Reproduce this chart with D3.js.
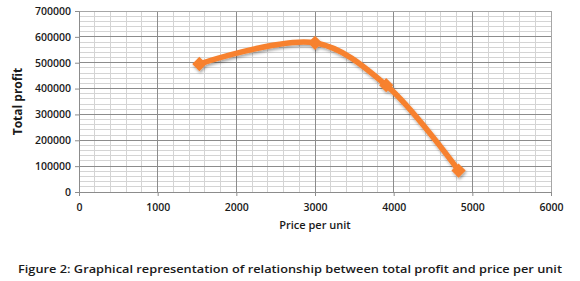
<!DOCTYPE html>
<html>
<head>
<meta charset="utf-8">
<script src="https://cdn.jsdelivr.net/npm/d3@7"></script>
<style>
  body { margin: 0; background: #fff; }
  svg text { fill: #1a1a1a; }
</style>
</head>
<body>
<div id="chart"></div>
<script>
// values
const prices = [1530, 3000, 3905, 4825];
const profits = [495000, 577000, 413000, 83000];
const xTicks = [0, 1000, 2000, 3000, 4000, 5000, 6000];
const yTicks = [0, 100000, 200000, 300000, 400000, 500000, 600000, 700000];

const width = 580, height = 281;
const margin = {top: 11, right: 29, bottom: 89, left: 79};

const svg = d3.select("#chart").append("svg")
    .attr("width", width)
    .attr("height", height);

const x = d3.scaleLinear().domain([0, 6000]).range([margin.left, width - margin.right]);
const y = d3.scaleLinear().domain([0, 700000]).range([height - margin.bottom, margin.top]);

// shadow for the line
const defs = svg.append("defs");
const f = defs.append("filter").attr("id", "shadow")
    .attr("x", "-10%").attr("y", "-10%").attr("width", "130%").attr("height", "130%");
f.append("feDropShadow")
    .attr("dx", 1).attr("dy", 2).attr("stdDeviation", 1.5)
    .attr("flood-color", "#000").attr("flood-opacity", 0.35);

// minor grid
const g = svg.append("g");
g.selectAll(".vminor")
    .data(d3.range(0, 6001, 200))
    .enter().append("line")
    .attr("x1", d => x(d)).attr("x2", d => x(d))
    .attr("y1", y(0)).attr("y2", y(700000))
    .attr("stroke", "#d4d4d4").attr("stroke-width", 1)
    .attr("shape-rendering", "crispEdges");
g.selectAll(".hminor")
    .data(d3.range(0, 700001, 20000))
    .enter().append("line")
    .attr("x1", x(0)).attr("x2", x(6000))
    .attr("y1", d => y(d)).attr("y2", d => y(d))
    .attr("stroke", "#d4d4d4").attr("stroke-width", 1)
    .attr("shape-rendering", "crispEdges");

// major grid
g.selectAll(".vmajor")
    .data(xTicks)
    .enter().append("line")
    .attr("x1", d => x(d)).attr("x2", d => x(d))
    .attr("y1", y(0)).attr("y2", y(700000))
    .attr("stroke", "#8c8c8c").attr("stroke-width", 1)
    .attr("shape-rendering", "crispEdges");
g.selectAll(".hmajor")
    .data(yTicks)
    .enter().append("line")
    .attr("x1", x(0)).attr("x2", x(6000))
    .attr("y1", d => y(d)).attr("y2", d => y(d))
    .attr("stroke", "#8c8c8c").attr("stroke-width", 1)
    .attr("shape-rendering", "crispEdges");

// plot border
svg.append("rect")
    .attr("x", x(0)).attr("y", y(700000))
    .attr("width", x(6000) - x(0)).attr("height", y(0) - y(700000))
    .attr("fill", "none").attr("stroke", "#a6a6a6")
    .attr("shape-rendering", "crispEdges");

// axes
const xAxis = svg.append("g")
    .attr("transform", `translate(0,${y(0)})`)
    .call(d3.axisBottom(x).tickValues(xTicks).tickSize(4).tickPadding(8).tickFormat(d3.format("d")));
const yAxis = svg.append("g")
    .attr("transform", `translate(${x(0)},0)`)
    .call(d3.axisLeft(y).tickValues(yTicks).tickSize(4).tickPadding(4).tickFormat(d3.format("d")));

[xAxis, yAxis].forEach(a => {
    a.select(".domain").attr("stroke", "#8c8c8c");
    a.selectAll(".tick line").attr("stroke", "#8c8c8c");
    a.selectAll("text")
        .attr("font-family", "'Open Sans', 'DejaVu Sans', sans-serif")
        .attr("font-size", 10.5)
        .attr("font-weight", 600)
        .attr("fill", "#1a1a1a");
});

// axis titles
svg.append("text")
    .attr("x", x(3000)).attr("y", 229)
    .attr("text-anchor", "middle")
    .attr("font-family", "'Open Sans', sans-serif")
    .attr("font-size", 11)
    .attr("font-weight", 600)
    .text("Price per unit");

svg.append("text")
    .attr("transform", `translate(22,${y(350000)}) rotate(-90)`)
    .attr("text-anchor", "middle")
    .attr("font-family", "'Open Sans', sans-serif")
    .attr("font-weight", "bold")
    .attr("font-size", 12)
    .text("Total profit");

// series
const data = prices.map((p, i) => ({price: p, profit: profits[i]}));

const line = d3.line()
    .x(d => x(d.price))
    .y(d => y(d.profit))
    .curve(d3.curveCatmullRom.alpha(0.5));

const series = svg.append("g").attr("filter", "url(#shadow)");
series.append("path")
    .datum(data)
    .attr("d", line)
    .attr("fill", "none")
    .attr("stroke", "#f7812e")
    .attr("stroke-width", 5.5)
    .attr("stroke-linecap", "round");

series.selectAll(".pt")
    .data(data)
    .enter().append("path")
    .attr("class", "pt")
    .attr("d", d3.symbol(d3.symbolDiamond2, 130))
    .attr("transform", d => `translate(${x(d.price)},${y(d.profit)})`)
    .attr("fill", "#f7812e");

// caption
svg.append("text")
    .attr("x", 18).attr("y", 273)
    .attr("font-family", "'Open Sans', sans-serif")
    .attr("font-weight", 600)
    .attr("font-size", 10.5)
    .attr("textLength", 544)
    .attr("lengthAdjust", "spacingAndGlyphs")
    .text("Figure 2: Graphical representation of relationship between total profit and price per unit");
</script>
</body>
</html>
